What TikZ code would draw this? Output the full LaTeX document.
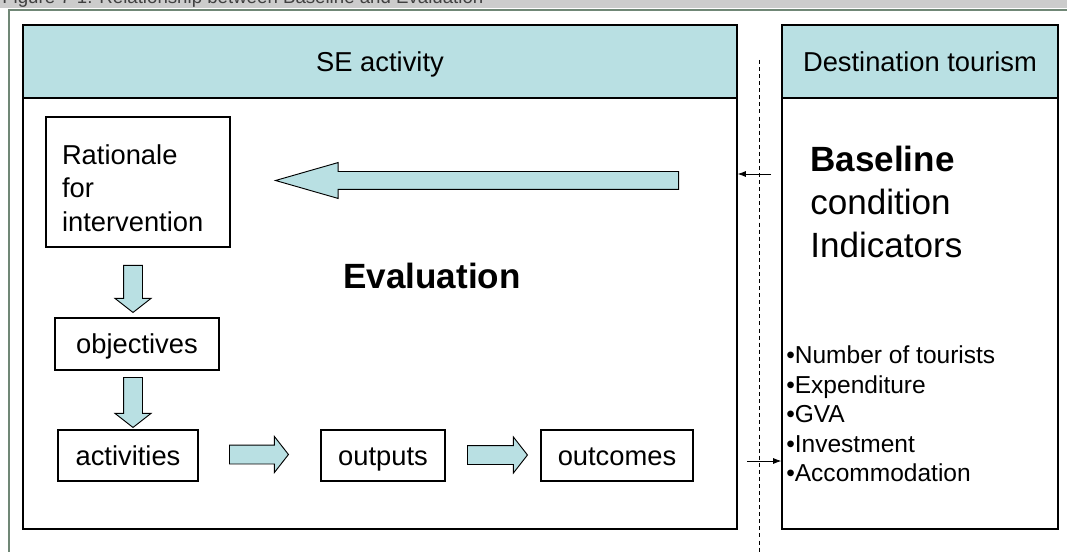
\documentclass[tikz,border=0pt]{standalone}
\usepackage{fontspec}
\setmainfont{Liberation Sans}
\usetikzlibrary{arrows.meta, positioning, calc, shapes.arrows}
\definecolor{seTeal}{RGB}{185,224,227}
\definecolor{frameGreen}{RGB}{112,135,118}
\definecolor{barGray}{RGB}{204,204,204}
\newcommand*{\pxl}[1]{#1*0.75pt}

\begin{document}
\begin{tikzpicture}[
    x=0.75pt, y=-0.75pt,
    every node/.style={font=\fontsize{20.5}{24.6}\selectfont},
    oneline/.style={text height=14.8pt, text depth=0pt},
    panel/.style={draw, line width=0.9pt, inner sep=0pt,
                  minimum height=\pxl{504}},
    head/.style={draw, line width=0.9pt, fill=seTeal, inner sep=0pt,
                 minimum height=\pxl{73}, oneline},
    stepbox/.style={draw, line width=0.8pt, inner sep=0pt,
                    minimum height=\pxl{51}},
    fatarr/.style={single arrow, draw, line width=0.7pt, fill=seTeal,
                   inner sep=0pt, inner ysep=\pxl{9}, minimum width=0pt,
                   single arrow head extend=\pxl{8.5},
                   single arrow tip angle=104, anchor=tail},
    arr/.style={-{Latex[length=2.2mm,width=1.6mm]}, line width=0.6pt}
]
\useasboundingbox (0,0) rectangle (1067,552);

% title bar, cut at the top
\fill[barGray] (0,0) rectangle (1067,8);
\begin{scope}
  \clip (0,0) rectangle (1067,8);
  \node[anchor=base west, inner sep=0pt, text=black!75,
        font=\fontsize{14}{16}\selectfont] (title) at (2,3.8)
    {Figure 7-1: Relationship between Baseline and Evaluation};
\end{scope}
\draw[frameGreen, line width=1.1pt] (1067,10) -- (9,10) -- (9,552);

% the two panels
\node[panel, minimum width=\pxl{714}] (se) at (380,277) {};
\node[head, minimum width=\pxl{714}] (sehead) at (380,61.5) {SE activity};
\node[panel, minimum width=\pxl{276}] (dt) at (920,277) {};
\node[head, minimum width=\pxl{276}] (dthead) at (920,61.5) {Destination tourism};

\draw[dashed, dash pattern=on 3pt off 2.3pt, line width=0.6pt]
  (759,60) -- (759,552);

% left panel
\node[stepbox, minimum width=\pxl{184}, minimum height=\pxl{130},
      text width=\pxl{152}, align=left,
      font=\fontsize{20.5}{25.1}\selectfont] (rat) at (138,182)
  {\rule{0pt}{24pt}Rationale\\for\\intervention};
\node[stepbox, oneline, minimum width=\pxl{164}, minimum height=\pxl{52}] (obj) at (137,344) {objectives};
\node[stepbox, oneline, minimum width=\pxl{140}] (act) at (128,455.5) {activities};
\node[stepbox, oneline, minimum width=\pxl{124}] (out) at (383,455.5) {outputs};
\node[stepbox, oneline, minimum width=\pxl{152}] (outc) at (617,455.5) {outcomes};

\node[font=\bfseries\fontsize{26.3}{31}\selectfont] (eval) at (432,276) {Evaluation};

\node[fatarr, rotate=180, minimum height=\pxl{403},
      inner ysep=\pxl{8.5}, single arrow head extend=\pxl{9},
      single arrow tip angle=32] (evarr) at (679,180.5) {};
\node[fatarr, rotate=-90, minimum height=\pxl{47}] (d1) at (133,265) {};
\node[fatarr, rotate=-90, minimum height=\pxl{50}] (d2) at (133,377) {};
\node[fatarr, minimum height=\pxl{59}] (r1) at (229,454.5) {};
\node[fatarr, minimum height=\pxl{60}] (r2) at (467,455) {};

% right panel
\node[anchor=west, align=left, inner sep=0pt,
      font=\fontsize{26.3}{31.9}\selectfont] (base) at (810,202)
  {\textbf{Baseline}\\condition\\Indicators};
\node[anchor=west, align=left, inner sep=0pt,
      font=\fontsize{18.4}{22.1}\selectfont] (ind) at (786,414)
  {•Number of tourists\\•Expenditure\\•GVA\\•Investment\\•Accommodation};

% links across the boundary
\coordinate (bin) at (771,174);
\coordinate (bout) at (747,461);
\draw[arr] (bin) -- (se.east |- bin);
\draw[arr] (bout) -- (dt.west |- bout);
\end{tikzpicture}
\end{document}
